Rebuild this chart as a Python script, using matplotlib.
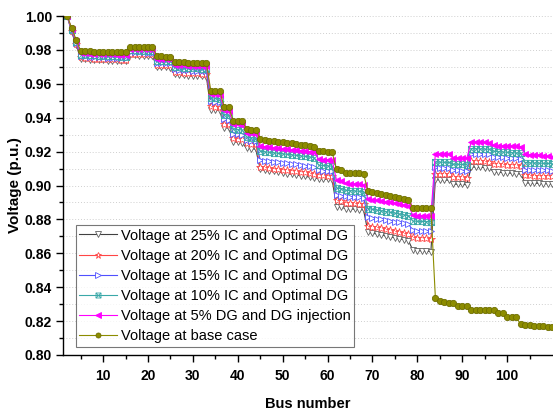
import matplotlib
matplotlib.use("Agg")
import matplotlib.pyplot as plt
from matplotlib.path import Path
from matplotlib.ticker import MultipleLocator, FixedLocator, FormatStrFormatter

plt.rcParams['font.family'] = ['Liberation Sans', 'DejaVu Sans']

buses = list(range(2, 111))
x_major_ticks = [10, 20, 30, 40, 50, 60, 70, 80, 90, 100]
x_minor_ticks = [5, 15, 25, 35, 45, 55, 65, 75, 85, 95, 105]

v_base = [1.000, 0.993, 0.986,
          0.9795, 0.9793, 0.9791, 0.9790, 0.9790, 0.9790, 0.9789, 0.9789, 0.9788, 0.9788, 0.9788,
          0.9820, 0.9819, 0.9818, 0.9818, 0.9817, 0.9817,
          0.9763, 0.9762, 0.9761, 0.9760,
          0.9728, 0.9727, 0.9726, 0.9725, 0.9725, 0.9724, 0.9723, 0.9722,
          0.9558, 0.9556, 0.9555,
          0.9463, 0.9461,
          0.9382, 0.9380, 0.9379,
          0.9332, 0.9330, 0.9329,
          0.9272, 0.9268, 0.9264, 0.9261, 0.9258, 0.9254, 0.9251, 0.9248, 0.9244, 0.9240, 0.9236, 0.9232, 0.9226,
          0.9203, 0.9201, 0.9199, 0.9197,
          0.9095, 0.9093,
          0.9076, 0.9075, 0.9073, 0.9072, 0.9070,
          0.8966, 0.8960, 0.8955, 0.8950, 0.8944, 0.8938, 0.8932, 0.8925, 0.8918, 0.8912,
          0.8870, 0.8869, 0.8868, 0.8867, 0.8866,
          0.8339, 0.8320, 0.8310, 0.8309, 0.8308, 0.8292, 0.8290, 0.8289,
          0.8268, 0.8267, 0.8266, 0.8265, 0.8264, 0.8263, 0.8250, 0.8248,
          0.8226, 0.8225, 0.8224, 0.8180, 0.8177, 0.8175, 0.8173, 0.8171, 0.8169, 0.8167, 0.8165]

v_dg5 = [1.000, 0.9925, 0.985,
         0.9782, 0.9780, 0.9778, 0.9777, 0.9776, 0.9775, 0.9774, 0.9773, 0.9772, 0.9772, 0.9771,
         0.9808, 0.9807, 0.9806, 0.9805, 0.9805, 0.9804,
         0.9748, 0.9746, 0.9745, 0.9744,
         0.9712, 0.9710, 0.9709, 0.9707, 0.9706, 0.9705, 0.9704, 0.9703,
         0.9540, 0.9538, 0.9536,
         0.9444, 0.9441,
         0.9362, 0.9360, 0.9358,
         0.9310, 0.9307, 0.9305,
         0.9232, 0.9229, 0.9226, 0.9223, 0.9220, 0.9217, 0.9214, 0.9212, 0.9209, 0.9206, 0.9203, 0.9200, 0.9197,
         0.9155, 0.9153, 0.9151, 0.9149,
         0.9030, 0.9027,
         0.9012, 0.9010, 0.9008, 0.9006, 0.9004,
         0.8921, 0.8917, 0.8912, 0.8908, 0.8904, 0.8900, 0.8896, 0.8891, 0.8887, 0.8882,
         0.8824, 0.8823, 0.8822, 0.8821, 0.8820,
         0.9188, 0.9187, 0.9186, 0.9185,
         0.9164, 0.9163, 0.9162, 0.9161,
         0.9257, 0.9256, 0.9255, 0.9254, 0.9253,
         0.9236, 0.9235, 0.9234, 0.9233, 0.9232, 0.9231, 0.9230,
         0.9183, 0.9181, 0.9179, 0.9177, 0.9175, 0.9173, 0.9171]

v_ic10 = [1.000, 0.992, 0.9845,
          0.9772, 0.9770, 0.9768, 0.9767, 0.9766, 0.9765, 0.9764, 0.9763, 0.9762, 0.9761, 0.9760,
          0.9798, 0.9797, 0.9796, 0.9795, 0.9794, 0.9793,
          0.9737, 0.9735, 0.9734, 0.9733,
          0.9699, 0.9697, 0.9695, 0.9694, 0.9692, 0.9691, 0.9690, 0.9689,
          0.9518, 0.9515, 0.9513,
          0.9418, 0.9415,
          0.9333, 0.9330, 0.9328,
          0.9285, 0.9282, 0.9280,
          0.9202, 0.9199, 0.9196, 0.9193, 0.9190, 0.9187, 0.9184, 0.9181, 0.9178, 0.9175, 0.9172, 0.9168, 0.9165,
          0.9120, 0.9118, 0.9116, 0.9114,
          0.8985, 0.8982,
          0.8972, 0.8970, 0.8968, 0.8966, 0.8964,
          0.8864, 0.8860, 0.8855, 0.8851, 0.8846, 0.8842, 0.8837, 0.8832, 0.8827, 0.8822,
          0.8790, 0.8789, 0.8788, 0.8787, 0.8786,
          0.9139, 0.9138, 0.9137, 0.9136,
          0.9126, 0.9125, 0.9124, 0.9123,
          0.9218, 0.9217, 0.9216, 0.9215, 0.9214,
          0.9202, 0.9200, 0.9198, 0.9196, 0.9194, 0.9192, 0.9190,
          0.9135, 0.9134, 0.9133, 0.9132, 0.9131, 0.9130, 0.9129]

v_ic15 = [1.000, 0.9915, 0.984,
          0.9764, 0.9762, 0.9760, 0.9758, 0.9757, 0.9756, 0.9755, 0.9754, 0.9753, 0.9752, 0.9751,
          0.9788, 0.9787, 0.9786, 0.9785, 0.9784, 0.9783,
          0.9724, 0.9722, 0.9721, 0.9720,
          0.9686, 0.9684, 0.9682, 0.9680, 0.9678, 0.9677, 0.9676, 0.9675,
          0.9496, 0.9493, 0.9490,
          0.9392, 0.9388,
          0.9305, 0.9302, 0.9299,
          0.9268, 0.9265, 0.9262,
          0.9150, 0.9147, 0.9144, 0.9140, 0.9137, 0.9134, 0.9130, 0.9127, 0.9124, 0.9120, 0.9117, 0.9114, 0.9110,
          0.9090, 0.9088, 0.9086, 0.9084,
          0.8942, 0.8939,
          0.8937, 0.8935, 0.8933, 0.8931, 0.8929,
          0.8812, 0.8808, 0.8804, 0.8800, 0.8795, 0.8791, 0.8787, 0.8782, 0.8778, 0.8773,
          0.8735, 0.8734, 0.8733, 0.8732, 0.8731,
          0.9107, 0.9106, 0.9105, 0.9104,
          0.9090, 0.9089, 0.9088, 0.9087,
          0.9188, 0.9187, 0.9186, 0.9185, 0.9184,
          0.9170, 0.9168, 0.9166, 0.9164, 0.9162, 0.9160, 0.9158,
          0.9094, 0.9093, 0.9092, 0.9091, 0.9090, 0.9089, 0.9088]

v_ic20 = [1.000, 0.991, 0.9835,
          0.9756, 0.9753, 0.9751, 0.9749, 0.9748, 0.9747, 0.9746, 0.9745, 0.9744, 0.9743, 0.9742,
          0.9778, 0.9777, 0.9776, 0.9775, 0.9774, 0.9773,
          0.9712, 0.9710, 0.9709, 0.9708,
          0.9670, 0.9668, 0.9666, 0.9664, 0.9662, 0.9661, 0.9660, 0.9659,
          0.9468, 0.9465, 0.9462,
          0.9365, 0.9361,
          0.9278, 0.9275, 0.9272,
          0.9248, 0.9245, 0.9242,
          0.9110, 0.9107, 0.9104, 0.9100, 0.9097, 0.9094, 0.9090, 0.9087, 0.9084, 0.9080, 0.9077, 0.9074, 0.9070,
          0.9062, 0.9060, 0.9058, 0.9056,
          0.8912, 0.8909,
          0.8898, 0.8896, 0.8894, 0.8892, 0.8890,
          0.8763, 0.8758, 0.8753, 0.8747, 0.8742, 0.8737, 0.8731, 0.8726, 0.8720, 0.8714,
          0.8695, 0.8693, 0.8691, 0.8689, 0.8687,
          0.9068, 0.9067, 0.9066, 0.9065,
          0.9050, 0.9049, 0.9048, 0.9047,
          0.9145, 0.9144, 0.9143, 0.9142, 0.9141,
          0.9128, 0.9126, 0.9124, 0.9122, 0.9120, 0.9118, 0.9116,
          0.9060, 0.9059, 0.9058, 0.9057, 0.9056, 0.9055, 0.9054]

v_ic25 = [1.000, 0.9905, 0.983,
          0.9748, 0.9745, 0.9742, 0.9740, 0.9739, 0.9738, 0.9737, 0.9736, 0.9735, 0.9734, 0.9733,
          0.9768, 0.9767, 0.9766, 0.9765, 0.9764, 0.9763,
          0.9700, 0.9698, 0.9697, 0.9696,
          0.9655, 0.9652, 0.9650, 0.9648, 0.9646, 0.9645, 0.9644, 0.9643,
          0.9448, 0.9445, 0.9442,
          0.9342, 0.9338,
          0.9258, 0.9255, 0.9252,
          0.9220, 0.9217, 0.9214,
          0.9095, 0.9091, 0.9087, 0.9083, 0.9079, 0.9075, 0.9070, 0.9066, 0.9062, 0.9058, 0.9054, 0.9050, 0.9045,
          0.9040, 0.9038, 0.9036, 0.9034,
          0.8875, 0.8872,
          0.8864, 0.8862, 0.8860, 0.8858, 0.8856,
          0.8724, 0.8719, 0.8713, 0.8708, 0.8702, 0.8697, 0.8691, 0.8686, 0.8680, 0.8675,
          0.8618, 0.8616, 0.8614, 0.8612, 0.8610,
          0.9034, 0.9033, 0.9032, 0.9031,
          0.9008, 0.9007, 0.9006, 0.9005,
          0.9109, 0.9108, 0.9107, 0.9106, 0.9105,
          0.9080, 0.9078, 0.9076, 0.9074, 0.9072, 0.9070, 0.9068,
          0.9015, 0.9014, 0.9013, 0.9012, 0.9011, 0.9010, 0.9009]

labels = ["Voltage at 25% IC and Optimal DG",
          "Voltage at 20% IC and Optimal DG",
          "Voltage at 15% IC and Optimal DG",
          "Voltage at 10% IC and Optimal DG",
          "Voltage at 5% DG and DG injection",
          "Voltage at base case"]

# square-with-cross marker
box_x = Path([(-1, -1), (1, -1), (1, 1), (-1, 1), (-1, -1), (-1, -1), (1, 1), (-1, 1), (1, -1)],
             [Path.MOVETO, Path.LINETO, Path.LINETO, Path.LINETO, Path.CLOSEPOLY,
              Path.MOVETO, Path.LINETO, Path.MOVETO, Path.LINETO])

styles = [
    dict(color='#404040', marker='v', mfc='white', mec='#606060', ms=5, mew=0.6),
    dict(color='#ff4545', marker='*', mfc='white', mec='#ff4545', ms=6, mew=0.6),
    dict(color='#5050ff', marker='>', mfc='white', mec='#5050ff', ms=5, mew=0.6),
    dict(color='#3aa8a8', marker=box_x, mfc='none', mec='#3aa8a8', ms=4.5, mew=0.6),
    dict(color='#ff00ff', marker='<', mfc='#ff00ff', mec='#ff00ff', ms=5, mew=0.6),
    dict(color='#8c8c00', marker='o', mfc='#8c8c00', mec='#6e6e00', ms=4.5, mew=0.6),
]
series = [v_ic25, v_ic20, v_ic15, v_ic10, v_dg5, v_base]

fig = plt.figure(figsize=(5.53, 4.12), dpi=100)
ax = fig.add_axes([63/553, 57/412, 490/553, 339/412])

for vals, lab, st in zip(series, labels, styles):
    ax.plot(buses, vals, label=lab, lw=0.8, **st)

ax.set_xlim(1.07, 110.2)
ax.set_ylim(0.80, 1.00)
ax.xaxis.set_major_locator(FixedLocator(x_major_ticks))
ax.xaxis.set_minor_locator(FixedLocator(x_minor_ticks))
ax.yaxis.set_major_locator(MultipleLocator(0.02))
ax.yaxis.set_minor_locator(MultipleLocator(0.01))
ax.yaxis.set_major_formatter(FormatStrFormatter('%.2f'))
ax.grid(True, which='both', axis='y', linestyle=(0, (1, 2)), color='#cfcfcf', lw=0.7)
ax.set_axisbelow(True)

for s in ['top', 'right']:
    ax.spines[s].set_visible(False)
for s in ['left', 'bottom']:
    ax.spines[s].set_linewidth(1.0)

ax.tick_params(axis='both', which='major', direction='out', length=5, width=1.0, labelsize=10)
ax.tick_params(axis='x', which='major', pad=5)
ax.tick_params(axis='y', which='major', pad=3)
ax.tick_params(axis='both', which='minor', direction='out', length=3, width=1.0)
for lbl in ax.get_xticklabels() + ax.get_yticklabels():
    lbl.set_fontweight('bold')

ax.set_xlabel('Bus number', fontsize=10.5, fontweight='bold', labelpad=10)
ax.set_ylabel('Voltage (p.u.)', fontsize=11, fontweight='bold', labelpad=2)

leg = ax.legend(loc='lower left', bbox_to_anchor=(0.026, 0.024), borderaxespad=0,
                fontsize=10.5, frameon=True, fancybox=False, edgecolor='#555555',
                handlelength=2.6, handletextpad=0.25, labelspacing=0.42, borderpad=0.25,
                markerscale=0.8)
leg.get_frame().set_linewidth(0.8)

fig.savefig('out.png', dpi=100)
